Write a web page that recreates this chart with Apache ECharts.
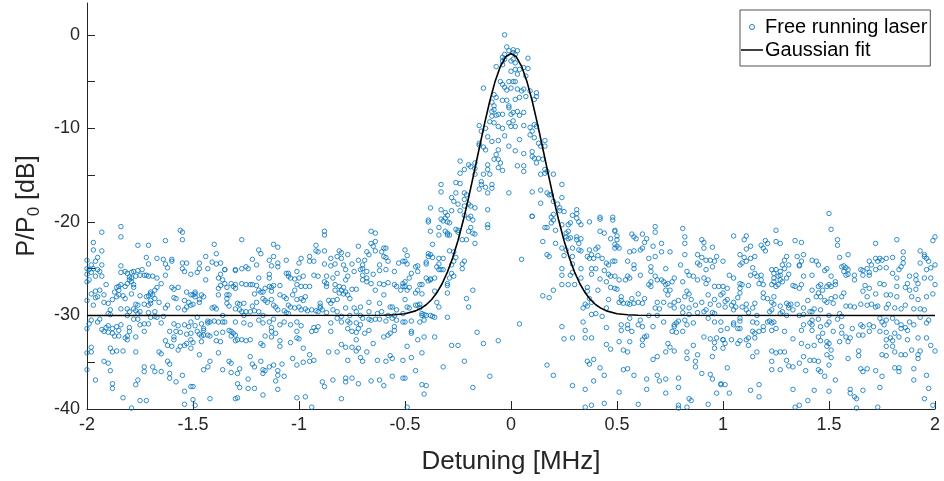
<!DOCTYPE html>
<html>
<head>
<meta charset="utf-8">
<title>Free running laser spectrum</title>
<script src="https://cdn.jsdelivr.net/npm/echarts@6/dist/echarts.min.js"></script>
<style>
  html, body { margin: 0; padding: 0; background: #fff; }
  #chart { width: 944px; height: 481px; }
</style>
</head>
<body>
<div id="chart"></div>
<script>
// Measured beat-note power (dB) versus detuning (MHz), grouped by detuning range
const laserA = [[-1.84,-20.5],[-1.84,-21.6],[-1.93,-21.1],[-1.56,-20.9],[-1.55,-21.1],[-1.55,-21.9],[-1.63,-22.0],[-1.97,-22.2],[-1.97,-23.0],[-1.93,-23.1],[-1.76,-22.5],[-1.71,-22.5],[-1.72,-23.8],[-1.67,-23.9],[-1.64,-24.0],[-1.60,-24.0],[-1.60,-24.2],[-1.63,-24.5],[-1.62,-24.9],[-1.55,-24.4],[-1.53,-24.4],[-1.55,-25.0],[-1.54,-25.3],[-1.51,-25.6],[-1.95,-23.8],[-1.96,-24.2],[-1.98,-24.6],[-2.00,-25.0],[-1.99,-25.1],[-1.97,-25.0],[-1.95,-25.1],[-1.93,-24.6],[-1.94,-25.3],[-1.93,-25.8],[-1.96,-25.8],[-1.98,-25.4],[-1.99,-26.2],[-2.00,-26.4],[-1.84,-24.7],[-1.84,-25.4],[-1.82,-25.3],[-1.81,-25.5],[-1.79,-25.4],[-1.78,-25.3],[-1.76,-25.2],[-1.75,-25.7],[-1.73,-25.7],[-1.72,-25.7],[-1.71,-25.8],[-1.71,-24.5],[-1.74,-25.1],[-1.80,-25.9],[-1.79,-26.0],[-1.79,-26.4],[-1.78,-26.7],[-1.78,-27.0],[-1.80,-26.2],[-1.77,-25.8],[-1.81,-26.6],[-1.82,-26.9],[-1.84,-26.7],[-1.85,-26.9],[-1.86,-27.0],[-1.85,-27.3],[-1.87,-27.5],[-1.86,-28.0],[-1.88,-28.3],[-1.91,-26.7],[-1.94,-27.3],[-1.96,-27.4],[-1.98,-27.7],[-1.95,-28.0],[-1.96,-28.1],[-1.92,-27.8],[-1.92,-28.6],[-1.90,-28.7],[-1.85,-27.8],[-1.83,-27.9],[-1.82,-28.2],[-1.79,-27.7],[-1.75,-27.9],[-1.72,-28.0],[-1.71,-27.9],[-1.70,-27.7],[-1.70,-27.5],[-1.68,-27.3],[-1.67,-27.0],[-1.67,-26.0],[-1.69,-25.8],[-1.65,-26.6],[-1.63,-25.7],[-1.60,-27.0],[-1.59,-27.2],[-1.57,-27.0],[-1.59,-28.1],[-1.58,-28.2],[-1.53,-27.5],[-1.51,-27.8],[-1.54,-28.4],[-1.52,-28.6],[-1.51,-28.9],[-1.53,-29.1],[-1.54,-29.4],[-1.57,-29.2],[-1.62,-28.9],[-1.63,-29.2],[-1.66,-28.6],[-1.68,-28.2],[-1.69,-27.8],[-1.70,-28.4],[-1.70,-28.7],[-1.73,-28.8],[-1.77,-28.8],[-1.76,-28.9],[-1.78,-29.3],[-1.77,-29.5],[-1.75,-29.6],[-1.76,-29.8],[-1.81,-29.3],[-1.80,-29.6],[-1.84,-29.3],[-1.89,-29.4],[-1.90,-29.8],[-1.89,-29.9],[-1.97,-28.9],[-2.00,-28.4],[-1.71,-28.9],[-1.71,-29.7],[-1.68,-29.6],[-1.68,-30.1],[-1.67,-30.2],[-1.70,-30.2],[-1.64,-30.1],[-1.65,-30.8],[-1.59,-30.9],[-1.57,-31.1],[-1.58,-31.7],[-1.54,-31.0],[-1.52,-31.2],[-1.51,-31.9],[-1.53,-32.0],[-1.56,-31.8],[-1.61,-31.7],[-1.63,-32.7],[-1.62,-33.2],[-1.59,-32.3],[-1.59,-32.6],[-1.60,-33.3],[-1.56,-33.3],[-1.54,-33.2],[-1.53,-33.0],[-1.51,-32.6],[-1.51,-33.5],[-1.57,-33.7],[-1.62,-34.9],[-1.61,-35.2],[-1.66,-33.9],[-1.65,-34.1],[-1.69,-35.5],[-1.68,-36.0],[-1.73,-35.5],[-1.73,-36.0],[-1.65,-36.0],[-1.76,-36.9],[-1.77,-37.4],[-1.81,-30.0],[-1.78,-30.4],[-1.73,-30.9],[-1.71,-30.9],[-1.76,-30.4],[-1.75,-31.0],[-1.80,-31.3],[-1.80,-31.7],[-1.81,-32.2],[-1.82,-32.4],[-1.81,-32.6],[-1.77,-32.3],[-1.73,-31.7],[-1.85,-31.6],[-1.84,-31.0],[-1.86,-31.2],[-1.87,-32.2],[-1.85,-32.2],[-1.88,-31.9],[-1.90,-31.8],[-1.91,-31.3],[-1.92,-31.7],[-1.93,-31.5],[-1.95,-30.7],[-1.94,-30.4],[-1.98,-30.5],[-1.99,-30.9],[-2.00,-31.4],[-1.90,-31.1],[-1.88,-31.4],[-1.98,-33.4],[-1.98,-33.9],[-1.89,-33.5],[-1.88,-33.9],[-1.86,-33.8],[-1.83,-33.8],[-1.77,-33.9],[-1.92,-34.9],[-1.90,-35.1],[-1.89,-35.9],[-1.96,-36.9],[-2.00,-35.8],[-1.88,-37.3],[-1.88,-37.8],[-1.83,-38.8],[-1.75,-39.1],[-1.72,-39.1],[-1.79,-39.9],[-1.61,-36.2],[-1.61,-36.7],[-1.55,-36.4],[-1.58,-37.1],[-1.54,-38.1],[-1.54,-39.5],[-1.51,-37.6],[-1.50,-39.0],[-2.00,-24.1],[-2.00,-25.6],[-2.00,-34.0]];

const laserB = [[-1.27,-21.9],[-1.40,-22.4],[-1.39,-23.4],[-1.44,-23.7],[-1.47,-24.4],[-1.41,-24.3],[-1.39,-24.5],[-1.37,-24.4],[-1.35,-25.1],[-1.47,-25.0],[-1.43,-25.0],[-1.48,-25.4],[-1.44,-26.2],[-1.49,-27.5],[-1.49,-27.7],[-1.49,-28.0],[-1.50,-27.8],[-1.46,-27.8],[-1.45,-28.0],[-1.47,-28.3],[-1.47,-28.6],[-1.50,-28.8],[-1.37,-25.6],[-1.38,-26.0],[-1.36,-26.2],[-1.35,-26.6],[-1.37,-26.8],[-1.38,-27.1],[-1.32,-26.6],[-1.31,-26.9],[-1.30,-26.7],[-1.30,-27.1],[-1.33,-27.8],[-1.34,-27.8],[-1.34,-28.2],[-1.34,-28.7],[-1.33,-29.0],[-1.34,-27.0],[-1.40,-29.1],[-1.41,-29.2],[-1.39,-29.3],[-1.38,-27.8],[-1.35,-25.1],[-1.30,-25.1],[-1.30,-25.2],[-1.27,-25.0],[-1.25,-24.8],[-1.24,-25.0],[-1.22,-24.0],[-1.20,-24.6],[-1.19,-23.0],[-1.18,-23.4],[-1.14,-24.1],[-1.12,-23.7],[-1.10,-22.7],[-1.12,-22.4],[-1.10,-24.4],[-1.10,-24.8],[-1.13,-24.7],[-1.06,-24.1],[-1.06,-25.5],[-1.05,-25.5],[-1.04,-26.0],[-1.05,-25.8],[-1.02,-26.1],[-1.01,-25.3],[-1.19,-26.0],[-1.14,-25.6],[-1.14,-26.0],[-1.27,-26.6],[-1.25,-26.7],[-1.23,-26.7],[-1.22,-26.7],[-1.20,-26.8],[-1.19,-27.3],[-1.18,-27.5],[-1.16,-27.1],[-1.14,-26.9],[-1.13,-27.0],[-1.13,-27.4],[-1.12,-26.8],[-1.09,-26.8],[-1.09,-27.8],[-1.07,-28.0],[-1.06,-28.2],[-1.03,-27.8],[-1.02,-27.3],[-1.01,-26.7],[-1.01,-28.3],[-1.05,-28.9],[-1.04,-29.1],[-1.02,-29.2],[-1.05,-29.8],[-1.06,-29.7],[-1.07,-29.5],[-1.10,-29.4],[-1.11,-29.1],[-1.12,-28.9],[-1.13,-28.3],[-1.15,-28.6],[-1.16,-28.4],[-1.17,-27.5],[-1.17,-28.2],[-1.21,-27.7],[-1.20,-28.6],[-1.22,-29.0],[-1.26,-28.7],[-1.28,-28.8],[-1.29,-28.7],[-1.28,-29.4],[-1.30,-29.3],[-1.27,-29.6],[-1.25,-29.6],[-1.23,-29.6],[-1.21,-29.5],[-1.19,-29.6],[-1.26,-30.0],[-1.36,-30.0],[-1.30,-30.7],[-1.26,-30.8],[-1.23,-31.0],[-1.19,-30.5],[-1.17,-30.0],[-1.14,-30.7],[-1.12,-30.4],[-1.09,-31.0],[-1.07,-30.7],[-1.04,-31.0],[-1.01,-30.7],[-1.01,-31.7],[-1.48,-30.2],[-1.46,-30.9],[-1.45,-31.6],[-1.45,-31.4],[-1.43,-30.6],[-1.43,-30.8],[-1.42,-30.7],[-1.40,-30.6],[-1.38,-30.7],[-1.36,-30.7],[-1.35,-30.7],[-1.51,-30.7],[-1.49,-31.1],[-1.48,-31.7],[-1.47,-32.0],[-1.46,-32.2],[-1.45,-32.1],[-1.43,-32.1],[-1.42,-32.2],[-1.46,-32.8],[-1.50,-32.9],[-1.39,-31.9],[-1.36,-31.8],[-1.33,-31.6],[-1.32,-31.7],[-1.31,-31.9],[-1.30,-32.1],[-1.32,-32.2],[-1.30,-32.7],[-1.29,-32.6],[-1.27,-32.6],[-1.25,-32.7],[-1.23,-32.6],[-1.39,-32.7],[-1.37,-32.8],[-1.17,-30.8],[-1.13,-31.3],[-1.13,-31.7],[-1.11,-31.9],[-1.16,-32.2],[-1.18,-33.0],[-1.17,-33.2],[-1.13,-32.3],[-1.09,-32.7],[-1.09,-33.3],[-1.04,-32.9],[-1.01,-32.4],[-1.47,-34.2],[-1.38,-34.0],[-1.42,-34.9],[-1.43,-35.5],[-1.45,-35.8],[-1.33,-34.9],[-1.32,-35.1],[-1.23,-34.4],[-1.22,-35.2],[-1.21,-35.5],[-1.18,-34.9],[-1.14,-35.5],[-1.12,-35.3],[-1.08,-35.2],[-1.03,-34.6],[-1.17,-35.8],[-1.17,-36.2],[-1.16,-35.9],[-1.28,-35.7],[-1.29,-36.2],[-1.32,-36.1],[-1.36,-35.8],[-1.10,-35.9],[-1.10,-36.4],[-1.11,-37.0],[-1.07,-36.5],[-1.29,-37.3],[-1.28,-37.7],[-1.24,-36.8],[-1.24,-37.8],[-1.21,-37.8],[-1.17,-38.5],[-1.10,-37.9],[-1.50,-37.6],[-1.42,-38.9],[-1.30,-38.9],[-1.29,-38.8],[-1.01,-38.8],[-1.49,-39.6]];

const laserC = [[-0.88,-21.0],[-0.88,-21.4],[-0.66,-21.0],[-0.64,-21.2],[-0.64,-22.1],[-0.66,-22.3],[-0.65,-22.6],[-0.60,-22.8],[-0.59,-22.8],[-0.61,-23.2],[-0.64,-23.1],[-0.68,-23.2],[-0.67,-23.5],[-0.72,-22.6],[-0.92,-22.5],[-0.92,-23.1],[-0.91,-23.2],[-0.88,-23.1],[-0.81,-23.1],[-0.80,-23.3],[-0.80,-23.9],[-0.77,-23.5],[-0.85,-23.9],[-0.82,-23.7],[-0.95,-23.7],[-0.93,-24.2],[-0.99,-23.9],[-1.00,-24.4],[-0.95,-24.2],[-0.72,-24.1],[-0.69,-24.1],[-0.70,-24.6],[-0.70,-25.0],[-0.71,-25.1],[-0.68,-25.3],[-0.70,-25.7],[-0.70,-26.2],[-0.68,-26.0],[-0.65,-25.6],[-0.62,-25.2],[-0.59,-25.1],[-0.55,-25.3],[-0.62,-24.6],[-0.60,-23.7],[-0.59,-23.8],[-0.53,-24.4],[-0.51,-24.2],[-0.58,-24.2],[-0.88,-24.5],[-0.85,-24.7],[-0.83,-24.5],[-0.79,-24.6],[-0.75,-24.5],[-0.78,-25.1],[-0.74,-25.3],[-0.77,-25.8],[-0.78,-26.2],[-0.82,-25.5],[-0.87,-25.8],[-0.84,-26.0],[-0.87,-26.9],[-0.87,-26.6],[-0.88,-26.4],[-0.91,-25.8],[-0.93,-25.7],[-0.98,-25.8],[-0.95,-26.9],[-0.97,-26.9],[-0.99,-26.9],[-1.00,-26.0],[-0.83,-26.7],[-0.81,-26.9],[-0.83,-27.3],[-0.80,-27.3],[-0.81,-27.6],[-0.79,-27.0],[-0.78,-27.5],[-0.75,-27.2],[-0.73,-27.2],[-0.77,-27.8],[-0.76,-28.2],[-0.79,-27.7],[-0.82,-28.3],[-0.84,-28.4],[-0.85,-28.7],[-0.86,-28.4],[-0.90,-28.7],[-0.90,-29.0],[-0.90,-29.2],[-0.89,-29.4],[-0.91,-29.6],[-0.92,-29.5],[-0.94,-29.4],[-0.97,-28.0],[-0.99,-28.2],[-0.98,-28.4],[-0.97,-29.3],[-0.96,-29.5],[-0.99,-29.4],[-1.00,-29.1],[-0.68,-26.4],[-0.66,-26.6],[-0.64,-27.3],[-0.62,-26.6],[-0.60,-26.7],[-0.58,-26.5],[-0.55,-26.7],[-0.54,-26.9],[-0.51,-26.9],[-0.51,-26.6],[-0.52,-27.3],[-0.60,-27.8],[-0.62,-28.7],[-0.57,-29.1],[-0.56,-29.1],[-0.54,-29.4],[-0.51,-29.8],[-0.55,-30.0],[-0.58,-30.0],[-0.61,-29.6],[-0.63,-29.8],[-0.67,-29.6],[-0.67,-28.6],[-0.71,-29.1],[-0.74,-29.2],[-0.73,-29.6],[-0.80,-30.1],[-0.76,-30.0],[-0.78,-29.2],[-0.82,-29.6],[-0.84,-29.4],[-0.87,-29.7],[-0.71,-30.0],[-0.70,-30.3],[-0.67,-30.4],[-0.66,-30.5],[-0.64,-30.4],[-0.62,-30.4],[-0.59,-30.6],[-0.56,-30.3],[-0.54,-30.5],[-0.51,-30.7],[-0.55,-31.2],[-0.55,-31.6],[-0.57,-31.9],[-0.58,-32.1],[-0.60,-32.3],[-0.67,-31.6],[-0.69,-31.9],[-0.71,-31.0],[-0.73,-30.8],[-0.72,-31.4],[-0.73,-31.8],[-0.75,-31.7],[-0.77,-31.4],[-0.76,-30.8],[-0.77,-30.6],[-0.80,-30.7],[-0.82,-30.3],[-0.85,-30.8],[-0.85,-31.7],[-0.91,-31.2],[-0.93,-31.3],[-0.94,-31.7],[-0.92,-31.6],[-0.99,-31.1],[-1.00,-32.5],[-0.73,-32.6],[-0.75,-33.4],[-0.78,-33.4],[-0.80,-33.1],[-0.82,-33.9],[-0.86,-33.9],[-0.73,-33.8],[-0.72,-33.5],[-0.71,-34.5],[-0.70,-34.9],[-0.77,-34.8],[-0.68,-33.9],[-0.65,-33.0],[-0.63,-34.8],[-0.59,-34.9],[-0.57,-34.3],[-0.56,-34.6],[-0.51,-34.8],[-0.98,-33.5],[-0.95,-34.2],[-0.95,-34.9],[-0.93,-34.8],[-0.98,-35.0],[-1.01,-35.3],[-0.89,-37.1],[-0.88,-37.6],[-0.84,-36.9],[-0.78,-36.7],[-0.78,-37.1],[-0.75,-36.7],[-0.72,-37.3],[-0.66,-37.0],[-0.62,-36.9],[-0.60,-37.5],[-0.56,-36.5],[-0.51,-36.7],[-0.97,-38.7],[-0.94,-39.8],[-0.80,-38.9]];

const laserD = [[-0.39,-19.8],[-0.39,-20.0],[-0.33,-19.7],[-0.32,-19.9],[-0.31,-19.6],[-0.30,-20.0],[-0.29,-20.1],[-0.34,-20.6],[-0.34,-21.4],[-0.38,-21.0],[-0.31,-21.0],[-0.30,-21.2],[-0.30,-21.4],[-0.29,-21.4],[-0.26,-20.8],[-0.25,-20.9],[-0.25,-21.1],[-0.20,-19.6],[-0.18,-19.8],[-0.19,-20.6],[-0.18,-21.2],[-0.20,-21.0],[-0.17,-21.3],[-0.17,-22.3],[-0.21,-21.9],[-0.23,-21.9],[-0.11,-20.3],[-0.11,-20.6],[-0.37,-22.4],[-0.50,-23.0],[-0.49,-23.6],[-0.50,-24.2],[-0.49,-24.5],[-0.47,-25.5],[-0.48,-26.0],[-0.45,-24.8],[-0.44,-24.7],[-0.44,-25.3],[-0.39,-23.4],[-0.39,-23.7],[-0.40,-24.3],[-0.40,-24.5],[-0.38,-23.5],[-0.37,-23.8],[-0.34,-23.9],[-0.32,-23.9],[-0.34,-24.5],[-0.35,-24.8],[-0.34,-25.1],[-0.33,-25.1],[-0.32,-25.1],[-0.29,-23.1],[-0.27,-23.2],[-0.26,-23.8],[-0.27,-24.2],[-0.28,-24.6],[-0.28,-25.5],[-0.27,-25.8],[-0.29,-26.0],[-0.30,-26.6],[-0.30,-26.8],[-0.22,-24.2],[-0.23,-24.5],[-0.23,-25.0],[-0.40,-26.0],[-0.38,-26.1],[-0.38,-26.2],[-0.39,-26.3],[-0.36,-26.0],[-0.42,-26.7],[-0.43,-26.7],[-0.44,-27.3],[-0.45,-27.6],[-0.42,-27.7],[-0.50,-26.4],[-0.50,-26.9],[-0.48,-27.0],[-0.49,-27.3],[-0.50,-28.3],[-0.49,-29.1],[-0.45,-28.9],[-0.44,-28.9],[-0.43,-28.8],[-0.43,-29.2],[-0.48,-29.2],[-0.47,-30.6],[-0.50,-30.7],[-0.42,-29.8],[-0.41,-29.9],[-0.40,-30.0],[-0.42,-30.0],[-0.41,-30.5],[-0.43,-30.7],[-0.37,-30.1],[-0.36,-30.2],[-0.38,-30.0],[-0.35,-28.6],[-0.34,-29.1],[-0.36,-27.4],[-0.30,-27.6],[-0.30,-30.2],[-0.21,-28.2],[-0.20,-29.1],[-0.18,-27.3],[-0.47,-31.7],[-0.47,-31.9],[-0.44,-32.6],[-0.41,-32.3],[-0.36,-32.3],[-0.49,-33.3],[-0.47,-34.5],[-0.42,-34.0],[-0.28,-33.2],[-0.25,-33.2],[-0.32,-35.5],[-0.22,-34.9],[-0.16,-31.8],[-0.13,-33.0],[-0.06,-32.7],[-0.10,-36.5],[-0.18,-37.7],[-0.45,-35.9],[-0.50,-36.7],[-0.42,-37.4],[-0.40,-37.5],[-0.41,-38.4],[-0.49,-39.8]];

const peakL = [[-0.03,0.0],[-0.02,-1.3],[-0.03,-2.1],[-0.04,-2.4],[-0.04,-2.8],[-0.04,-3.2],[-0.07,-3.4],[-0.03,-2.6],[-0.01,-1.7],[0.01,-1.9],[0.0,-2.8],[0.0,-3.9],[-0.13,-5.7],[-0.05,-5.0],[-0.04,-5.3],[-0.03,-5.6],[-0.02,-5.9],[-0.01,-5.0],[0.0,-5.7],[-0.08,-6.4],[-0.07,-6.7],[-0.09,-7.2],[-0.08,-7.6],[-0.08,-8.0],[-0.07,-8.6],[-0.09,-8.2],[-0.09,-8.7],[-0.06,-8.5],[-0.04,-8.5],[-0.01,-7.6],[0.0,-8.5],[-0.04,-7.0],[-0.02,-7.0],[-0.01,-7.8],[-0.10,-9.3],[-0.08,-9.4],[-0.06,-9.8],[-0.04,-10.0],[-0.01,-9.4],[0.0,-9.8],[-0.03,-10.8],[-0.01,-11.9],[-0.06,-11.3],[-0.09,-11.4],[-0.11,-10.9],[-0.12,-10.0],[-0.14,-10.3],[-0.15,-9.7],[-0.15,-11.6],[-0.15,-11.8],[-0.13,-12.0],[-0.12,-12.3],[-0.06,-12.3],[-0.07,-12.8],[-0.08,-13.3],[-0.06,-13.3],[-0.05,-13.7],[-0.04,-14.5],[-0.06,-14.2],[-0.11,-13.9],[-0.11,-14.4],[-0.13,-14.9],[-0.10,-14.9],[-0.09,-16.0],[-0.09,-16.4],[-0.12,-16.3],[-0.11,-16.9],[-0.15,-16.5],[-0.14,-16.0],[-0.14,-15.7],[-0.17,-14.9],[-0.17,-14.3],[-0.19,-14.1],[-0.17,-13.7],[-0.20,-13.9],[-0.24,-13.5],[-0.22,-14.4],[-0.24,-14.8],[-0.26,-15.8],[-0.24,-15.9],[-0.33,-16.0],[-0.33,-16.8],[-0.28,-17.4],[-0.27,-17.8],[-0.26,-16.9],[-0.22,-16.9],[-0.21,-17.1],[-0.22,-17.6],[-0.25,-18.1],[-0.17,-18.5],[-0.11,-18.7],[-0.01,-16.9],[-0.38,-18.5],[-0.33,-18.7],[-0.31,-19.0],[-0.28,-18.8],[-0.30,-19.3],[-0.24,-18.8],[-0.19,-19.4],[-0.19,-18.3],[-0.22,-18.3],[-0.20,-18.1],[-0.22,-19.3]];

const peakR = [[0.01,-1.6],[0.03,-1.7],[0.02,-2.1],[0.08,-2.5],[0.01,-2.6],[0.02,-3.0],[0.02,-3.7],[0.04,-3.7],[0.06,-3.5],[0.08,-3.6],[0.03,-4.2],[0.07,-4.4],[0.01,-5.0],[0.02,-5.0],[0.03,-5.8],[0.05,-6.0],[0.06,-5.8],[0.09,-6.0],[0.12,-6.2],[0.12,-6.6],[0.11,-6.9],[0.07,-6.6],[0.04,-6.7],[0.02,-6.9],[0.03,-8.2],[0.06,-8.3],[0.01,-8.3],[0.04,-8.6],[0.01,-9.2],[0.02,-9.8],[0.06,-9.7],[0.09,-9.9],[0.11,-9.6],[0.12,-9.8],[0.10,-10.3],[0.09,-10.7],[0.04,-11.2],[0.11,-11.0],[0.16,-11.3],[0.13,-11.6],[0.14,-11.9],[0.16,-11.9],[0.02,-12.4],[0.06,-12.7],[0.10,-12.5],[0.10,-13.0],[0.11,-13.2],[0.12,-13.7],[0.13,-13.2],[0.03,-14.0],[0.06,-14.0],[0.06,-14.6],[0.15,-13.3],[0.16,-14.4],[0.14,-14.9],[0.16,-14.8],[0.17,-14.6],[0.20,-14.9],[0.10,-16.8],[0.14,-16.6],[0.17,-16.9],[0.18,-17.1],[0.19,-17.1],[0.24,-17.4],[0.24,-16.0],[0.14,-18.0],[0.20,-17.8],[0.22,-18.1],[0.23,-18.5],[0.23,-18.8],[0.25,-18.9],[0.31,-18.7],[0.31,-19.1],[0.29,-19.3],[0.20,-19.2],[0.19,-19.5],[0.10,-19.4],[0.42,-19.5],[0.48,-19.5]];

const laserE = [[0.10,-19.4],[0.20,-19.8],[0.19,-20.1],[0.17,-20.6],[0.16,-20.6],[0.21,-20.9],[0.24,-20.3],[0.27,-20.3],[0.28,-20.1],[0.27,-21.0],[0.26,-21.2],[0.26,-21.6],[0.27,-21.8],[0.28,-21.7],[0.31,-21.6],[0.31,-21.9],[0.32,-22.3],[0.33,-21.8],[0.31,-19.6],[0.32,-20.0],[0.33,-20.3],[0.37,-20.0],[0.42,-19.7],[0.48,-19.8],[0.42,-21.0],[0.44,-21.2],[0.47,-21.8],[0.49,-20.9],[0.49,-22.4],[0.49,-22.8],[0.21,-22.3],[0.15,-22.1],[0.24,-22.8],[0.26,-23.0],[0.29,-22.8],[0.32,-23.0],[0.33,-23.1],[0.37,-23.0],[0.41,-22.7],[0.40,-22.9],[0.38,-23.5],[0.36,-23.7],[0.37,-23.9],[0.39,-23.9],[0.41,-23.6],[0.43,-23.9],[0.45,-24.4],[0.46,-24.6],[0.48,-24.2],[0.49,-24.2],[0.17,-23.5],[0.18,-23.7],[0.25,-23.6],[0.29,-23.7],[0.05,-24.0],[0.29,-24.5],[0.33,-25.0],[0.38,-25.0],[0.40,-25.0],[0.38,-25.6],[0.44,-25.2],[0.46,-25.6],[0.47,-25.8],[0.49,-25.8],[0.24,-25.0],[0.24,-25.7],[0.28,-25.7],[0.29,-25.4],[0.33,-26.0],[0.30,-26.7],[0.27,-26.7],[0.24,-26.7],[0.42,-26.1],[0.45,-26.4],[0.47,-27.0],[0.49,-27.1],[0.20,-27.3],[0.15,-27.9],[0.18,-28.1],[0.36,-27.0],[0.36,-27.4],[0.41,-27.3],[0.46,-28.3],[0.37,-28.2],[0.38,-28.6],[0.35,-28.8],[0.34,-29.2],[0.36,-29.0],[0.38,-29.9],[0.40,-29.8],[0.43,-30.1],[0.45,-29.2],[0.04,-30.9],[0.24,-31.2],[0.25,-32.5],[0.29,-32.4],[0.35,-31.6],[0.34,-30.7],[0.35,-32.4],[0.38,-32.4],[0.45,-31.3],[0.45,-33.1],[0.47,-33.6],[0.17,-35.3],[0.20,-36.4],[0.36,-34.9],[0.37,-35.2],[0.39,-34.7],[0.42,-35.6],[0.44,-36.4],[0.39,-37.0],[0.29,-37.5],[0.35,-37.9],[0.35,-39.8],[0.38,-39.6],[0.44,-39.4]];

const laserF = [[0.68,-20.5],[0.68,-21.1],[0.81,-20.7],[0.82,-21.6],[0.82,-22.3],[0.57,-21.3],[0.58,-21.6],[0.59,-21.8],[0.62,-21.3],[0.64,-21.8],[0.63,-22.2],[0.71,-22.3],[0.75,-23.2],[0.71,-23.2],[0.67,-22.6],[0.62,-22.8],[0.61,-23.0],[0.58,-23.1],[0.56,-23.2],[0.49,-21.0],[0.50,-21.5],[0.50,-21.9],[0.50,-22.6],[0.51,-22.8],[0.90,-21.9],[0.91,-22.2],[0.91,-22.8],[0.95,-22.7],[0.88,-23.5],[0.90,-23.8],[0.92,-24.1],[0.94,-24.1],[0.96,-24.2],[0.97,-23.7],[1.00,-24.2],[0.95,-24.8],[0.92,-25.1],[0.88,-24.4],[0.89,-24.6],[0.82,-23.5],[0.83,-25.3],[0.86,-25.8],[0.84,-25.7],[0.80,-24.6],[0.73,-25.0],[0.68,-23.7],[0.55,-24.2],[0.58,-24.6],[0.58,-25.0],[0.65,-23.9],[0.66,-24.8],[0.61,-25.7],[0.66,-25.3],[0.68,-25.8],[0.69,-26.2],[0.66,-26.4],[0.65,-26.7],[0.66,-26.9],[0.71,-26.2],[0.72,-26.4],[0.73,-26.7],[0.74,-26.6],[0.76,-26.4],[0.77,-26.0],[0.73,-27.3],[0.75,-27.3],[0.74,-27.8],[0.81,-26.4],[0.83,-27.4],[0.84,-27.7],[0.82,-28.0],[0.85,-28.3],[0.87,-28.9],[0.84,-29.2],[0.81,-29.1],[0.81,-29.7],[0.77,-29.2],[0.77,-28.6],[0.79,-28.4],[0.75,-28.9],[0.72,-28.6],[0.69,-28.6],[0.70,-29.3],[0.69,-30.0],[0.68,-29.2],[0.65,-30.0],[0.63,-28.2],[0.62,-28.7],[0.60,-27.7],[0.60,-28.6],[0.58,-28.7],[0.57,-28.2],[0.56,-28.8],[0.55,-28.7],[0.52,-28.0],[0.51,-28.6],[0.52,-28.4],[0.53,-28.7],[0.50,-27.2],[0.51,-26.2],[0.55,-25.8],[0.56,-26.0],[0.54,-26.2],[0.88,-26.2],[0.91,-26.0],[0.92,-26.6],[0.93,-26.2],[0.96,-26.9],[0.98,-26.9],[0.99,-27.8],[1.00,-27.6],[0.93,-27.8],[0.96,-28.3],[0.98,-28.9],[0.94,-28.8],[0.90,-28.6],[0.92,-29.4],[0.91,-29.6],[0.88,-29.7],[0.84,-29.9],[0.95,-29.7],[0.96,-29.8],[0.99,-30.7],[0.96,-30.7],[0.93,-30.3],[0.86,-30.8],[0.82,-30.5],[0.79,-30.6],[0.78,-30.8],[0.77,-31.0],[0.77,-31.2],[0.76,-31.7],[0.78,-31.8],[0.81,-31.7],[0.83,-31.0],[0.72,-30.7],[0.67,-31.2],[0.62,-31.2],[0.61,-30.5],[0.60,-31.0],[0.56,-30.3],[0.55,-31.0],[0.55,-31.4],[0.52,-31.6],[0.52,-31.0],[0.57,-31.7],[0.56,-32.8],[0.51,-32.8],[0.63,-32.3],[0.64,-32.2],[0.62,-32.6],[0.62,-33.2],[0.53,-33.7],[0.55,-33.9],[0.74,-33.0],[0.75,-33.4],[0.73,-33.9],[0.77,-33.8],[0.83,-33.9],[0.86,-33.2],[0.88,-34.2],[0.87,-34.9],[0.87,-35.5],[0.83,-34.6],[0.69,-34.4],[0.67,-34.7],[0.91,-32.3],[0.94,-32.5],[0.96,-32.9],[0.97,-32.4],[1.00,-32.6],[0.99,-31.6],[0.96,-33.5],[0.95,-34.4],[0.90,-36.2],[0.94,-36.3],[0.95,-36.8],[0.99,-37.4],[0.97,-38.3],[0.53,-35.8],[0.55,-35.7],[0.58,-36.4],[0.64,-36.8],[0.69,-36.4],[0.70,-37.0],[0.73,-36.8],[0.79,-36.7],[0.79,-37.7],[0.64,-37.9],[0.51,-38.2],[0.73,-38.3],[0.84,-38.9],[0.85,-39.1],[0.60,-39.5],[0.79,-39.6],[0.79,-39.9],[0.83,-39.8],[0.93,-39.5]];

const laserG = [[1.25,-20.9],[1.05,-21.5],[1.11,-21.5],[1.10,-21.9],[1.13,-22.6],[1.11,-22.9],[1.18,-22.5],[1.20,-22.0],[1.21,-22.3],[1.19,-22.8],[1.20,-23.1],[1.25,-22.1],[1.27,-22.3],[1.34,-22.0],[1.37,-22.2],[1.38,-23.5],[1.35,-23.7],[1.37,-24.2],[1.36,-24.6],[1.36,-24.7],[1.42,-24.1],[1.44,-24.2],[1.45,-24.6],[1.48,-25.2],[1.49,-25.0],[1.08,-23.5],[1.10,-23.8],[1.09,-24.4],[1.08,-24.6],[1.11,-24.2],[1.13,-23.9],[1.15,-23.7],[1.14,-24.9],[1.15,-25.5],[1.13,-25.7],[1.16,-25.8],[1.18,-25.7],[1.18,-26.2],[1.17,-26.6],[1.19,-26.7],[1.23,-25.1],[1.24,-25.5],[1.25,-25.1],[1.27,-25.3],[1.24,-26.0],[1.26,-25.8],[1.27,-25.7],[1.29,-24.1],[1.30,-23.7],[1.28,-24.6],[1.31,-24.6],[1.31,-25.6],[1.30,-26.0],[1.28,-26.4],[1.26,-26.7],[1.27,-26.2],[1.29,-25.0],[1.24,-26.4],[1.23,-26.7],[1.25,-26.9],[1.33,-26.8],[1.34,-26.9],[1.36,-27.1],[1.37,-26.7],[1.38,-25.8],[1.42,-25.7],[1.45,-26.9],[1.46,-26.7],[1.47,-27.3],[1.49,-26.9],[1.45,-27.6],[1.42,-27.3],[1.03,-25.7],[1.05,-26.0],[1.00,-26.9],[1.02,-27.1],[1.08,-26.6],[1.09,-26.7],[1.08,-27.1],[1.12,-26.8],[1.08,-27.6],[1.07,-28.1],[1.05,-28.6],[1.06,-29.1],[1.05,-29.4],[1.02,-28.3],[1.04,-28.9],[1.01,-28.5],[1.01,-29.1],[1.15,-28.7],[1.14,-29.2],[1.11,-28.8],[1.09,-29.1],[1.11,-29.4],[1.12,-29.7],[1.19,-28.1],[1.19,-27.6],[1.21,-28.2],[1.24,-28.0],[1.23,-28.6],[1.24,-28.8],[1.27,-29.0],[1.27,-29.8],[1.30,-28.7],[1.31,-28.9],[1.32,-28.8],[1.31,-29.2],[1.33,-29.4],[1.35,-28.8],[1.38,-29.2],[1.41,-29.6],[1.40,-28.4],[1.44,-28.0],[1.46,-28.0],[1.48,-28.4],[1.49,-28.6],[1.46,-29.4],[1.43,-29.3],[1.42,-29.6],[1.36,-30.0],[1.38,-29.9],[1.30,-30.0],[1.28,-29.6],[1.23,-29.4],[1.22,-29.6],[1.16,-30.0],[1.22,-30.6],[1.21,-30.7],[1.23,-30.8],[1.24,-30.7],[1.25,-31.4],[1.23,-31.6],[1.19,-31.2],[1.16,-30.8],[1.14,-30.7],[1.14,-31.7],[1.15,-31.9],[1.17,-31.7],[1.19,-31.6],[1.08,-30.3],[1.08,-30.6],[1.05,-31.0],[1.05,-30.8],[1.02,-31.4],[1.07,-31.4],[1.08,-31.4],[1.00,-32.6],[1.01,-33.0],[1.00,-33.5],[1.04,-32.6],[1.07,-33.0],[1.08,-32.7],[1.11,-32.6],[1.12,-32.4],[1.15,-32.4],[1.12,-33.2],[1.16,-33.9],[1.14,-34.4],[1.23,-33.8],[1.25,-34.0],[1.27,-33.9],[1.29,-33.9],[1.29,-31.7],[1.33,-32.5],[1.37,-31.6],[1.38,-31.0],[1.41,-30.8],[1.42,-31.0],[1.42,-30.5],[1.45,-30.4],[1.46,-31.2],[1.49,-31.0],[1.47,-31.9],[1.45,-32.3],[1.46,-32.7],[1.42,-31.6],[1.40,-33.3],[1.37,-33.0],[1.43,-33.2],[1.49,-32.8],[1.49,-33.3],[1.33,-35.5],[1.30,-34.8],[1.31,-35.4],[1.36,-35.1],[1.38,-34.4],[1.39,-35.9],[1.41,-34.8],[1.43,-34.8],[1.45,-34.9],[1.46,-36.0],[1.45,-35.8],[1.48,-36.5],[1.49,-34.2],[1.23,-34.9],[1.23,-35.8],[1.27,-35.8],[1.02,-35.6],[0.99,-37.3],[1.01,-37.4],[1.03,-38.3],[1.13,-38.0],[1.17,-37.4],[1.17,-38.7],[1.33,-37.9],[1.43,-38.0],[1.40,-39.1],[1.36,-39.6],[1.34,-39.8]];

const laserH = [[1.50,-19.1],[1.51,-20.8],[1.54,-21.9],[1.54,-22.5],[1.72,-22.3],[1.82,-21.9],[2.00,-21.6],[1.99,-22.0],[1.55,-23.8],[1.59,-23.5],[1.56,-24.8],[1.57,-24.7],[1.58,-24.9],[1.59,-25.1],[1.59,-25.6],[1.58,-25.7],[1.57,-25.3],[1.62,-25.7],[1.62,-26.2],[1.51,-25.8],[1.53,-26.4],[1.53,-26.7],[1.51,-26.9],[1.50,-26.7],[1.69,-24.2],[1.70,-24.6],[1.72,-23.9],[1.74,-23.9],[1.73,-24.2],[1.75,-24.1],[1.77,-23.9],[1.80,-23.8],[1.85,-23.2],[1.85,-23.9],[1.85,-24.4],[1.84,-24.8],[1.83,-25.1],[1.93,-23.1],[1.95,-23.7],[1.95,-23.5],[1.96,-23.9],[1.97,-24.2],[1.93,-24.4],[1.96,-25.1],[1.98,-24.9],[2.00,-24.6],[1.91,-25.7],[1.88,-25.8],[1.87,-26.6],[1.91,-26.2],[1.92,-26.6],[1.95,-26.0],[1.98,-26.0],[1.80,-25.5],[1.82,-26.0],[1.77,-24.9],[1.74,-24.9],[1.72,-25.1],[1.68,-25.0],[1.66,-25.2],[1.65,-25.1],[1.66,-25.7],[1.69,-25.4],[1.69,-25.7],[1.67,-26.8],[1.69,-27.1],[1.66,-27.4],[1.68,-28.0],[1.72,-27.7],[1.74,-26.6],[1.76,-26.7],[1.77,-27.8],[1.79,-27.8],[1.82,-26.9],[1.82,-28.0],[1.86,-27.0],[1.88,-27.3],[1.91,-27.2],[1.89,-28.0],[1.92,-28.3],[1.96,-28.0],[2.00,-26.7],[1.99,-27.7],[1.57,-27.6],[1.56,-28.0],[1.53,-28.0],[1.52,-28.7],[1.51,-28.2],[1.58,-29.0],[1.60,-29.0],[1.62,-29.1],[1.65,-28.8],[1.68,-28.9],[1.70,-28.8],[1.72,-29.1],[1.73,-29.0],[1.77,-29.2],[1.78,-28.8],[1.81,-29.2],[1.84,-29.3],[1.86,-28.9],[1.90,-29.3],[1.93,-29.3],[1.95,-29.4],[1.55,-29.8],[1.54,-30.4],[1.56,-30.1],[1.50,-30.0],[1.50,-30.7],[1.56,-31.2],[1.52,-31.7],[1.56,-31.9],[1.61,-31.4],[1.65,-31.0],[1.66,-31.2],[1.69,-31.0],[1.69,-31.7],[1.66,-32.1],[1.64,-32.1],[1.60,-32.4],[1.59,-32.8],[1.58,-32.3],[1.55,-32.8],[1.50,-33.0],[1.51,-33.7],[1.51,-34.5],[1.50,-35.3],[1.59,-34.6],[1.64,-33.8],[1.64,-34.3],[1.74,-30.3],[1.75,-30.7],[1.76,-31.0],[1.77,-30.5],[1.80,-30.3],[1.82,-30.7],[1.84,-31.0],[1.87,-31.6],[1.88,-30.7],[1.90,-31.0],[1.93,-30.2],[1.96,-30.8],[1.97,-30.5],[1.77,-31.8],[1.74,-31.7],[1.71,-31.2],[1.77,-32.6],[1.79,-32.4],[1.80,-32.7],[1.81,-31.9],[1.83,-32.3],[1.84,-31.4],[1.86,-31.3],[1.87,-32.6],[1.92,-32.4],[1.96,-32.4],[1.98,-33.2],[2.00,-33.8],[1.80,-33.3],[1.81,-33.9],[1.84,-34.2],[1.86,-34.2],[1.75,-34.2],[1.77,-34.3],[1.77,-33.3],[1.89,-33.7],[1.92,-34.2],[1.92,-34.6],[1.93,-33.8],[1.72,-35.9],[1.75,-36.5],[1.81,-35.6],[1.83,-35.6],[1.83,-36.0],[1.90,-35.7],[1.90,-36.9],[1.96,-36.4],[1.97,-37.8],[1.95,-38.9],[1.65,-35.7],[1.66,-36.0],[1.68,-35.7],[1.53,-36.9],[1.50,-38.1],[1.60,-37.9],[1.60,-38.3],[1.62,-38.7],[1.63,-38.9],[1.66,-38.0],[1.74,-37.7],[1.63,-39.9],[1.73,-39.8],[1.99,-39.6]];

// Gaussian fit sampled along the detuning axis
const fitX = [-2, -0.6, -0.55, -0.5, -0.45, -0.425, -0.4, -0.375, -0.35, -0.325, -0.3, -0.275, -0.25, -0.225, -0.2, -0.175, -0.15, -0.125, -0.1, -0.075, -0.05, -0.025, 0, 0.025, 0.05, 0.075, 0.1, 0.125, 0.15, 0.175, 0.2, 0.225, 0.25, 0.275, 0.3, 0.325, 0.35, 0.375, 0.4, 0.425, 0.45, 0.5, 0.55, 0.6, 2];
const fitY = [-30, -29.98, -29.93, -29.81, -29.51, -29.24, -28.86, -28.32, -27.58, -26.61, -25.37, -23.83, -21.98, -19.83, -17.42, -14.82, -12.15, -9.52, -7.08, -4.98, -3.37, -2.35, -2.0, -2.35, -3.37, -4.98, -7.08, -9.52, -12.15, -14.82, -17.42, -19.83, -21.98, -23.83, -25.37, -26.61, -27.58, -28.32, -28.86, -29.24, -29.51, -29.81, -29.93, -29.98, -30];

const xTicks = [-2, -1.5, -1, -0.5, 0, 0.5, 1, 1.5, 2];
const yTickMarks = [-40, -35, -30, -25, -20, -15, -10, -5, 0];
const yTickLabels = [-40, -30, -20, -10, 0];

const laserPoints = [].concat(laserA, laserB, laserC, laserD, peakL, peakR, laserE, laserF, laserG, laserH);
const fitPoints = fitX.map((x, i) => [x, fitY[i]]);

const axisColor = '#262626';
const font = '"Liberation Sans", Arial, Helvetica, sans-serif';

const chart = echarts.init(document.getElementById('chart'), null, { renderer: 'canvas' });
chart.setOption({
  animation: false,
  backgroundColor: '#ffffff',
  textStyle: { fontFamily: font },
  grid: { left: 87, right: 9, top: 3, bottom: 72, containLabel: false },
  legend: {
    left: 740, top: 10,
    orient: 'vertical',
    backgroundColor: '#ffffff',
    borderColor: axisColor,
    borderWidth: 0.8,
    borderRadius: 0,
    padding: [7, 3, 6, 1],
    itemGap: 3,
    itemWidth: 22,
    itemHeight: 5,
    textStyle: { fontFamily: font, fontSize: 20, color: '#000', lineHeight: 18, padding: [0, 0, 0, -3] },
    data: [
      { name: 'Free running laser', icon: 'circle',
        itemStyle: { color: 'rgba(0,0,0,0)', borderColor: '#0072BD', borderWidth: 0.9 } },
      { name: 'Gaussian fit', icon: 'path://M0,0H22V1.5H0Z',
        itemStyle: { color: '#000000', borderWidth: 0 } }
    ]
  },
  xAxis: {
    type: 'value', min: -2, max: 2, interval: 0.5,
    name: 'Detuning [MHz]', nameLocation: 'middle', nameGap: 40,
    nameTextStyle: { fontFamily: font, fontSize: 26, color: axisColor },
    axisLine: { show: true, onZero: false, lineStyle: { color: axisColor, width: 1 } },
    axisTick: { show: true, inside: true, length: 8, lineStyle: { color: axisColor }, customValues: xTicks },
    axisLabel: { fontFamily: font, fontSize: 18, color: axisColor, margin: 7, customValues: xTicks },
    splitLine: { show: false }
  },
  yAxis: {
    type: 'value', min: -40, max: 3.4, interval: 5,
    name: '{n|P/P}{s|0}{n| [dB]}', nameLocation: 'middle', nameGap: 42,
    nameTextStyle: {
      fontFamily: font, color: axisColor,
      rich: {
        n: { fontFamily: font, fontSize: 25, color: axisColor, lineHeight: 28, verticalAlign: 'top' },
        s: { fontFamily: font, fontSize: 17, color: axisColor, lineHeight: 20, padding: [17, 0, 0, 0], verticalAlign: 'bottom' }
      }
    },
    axisLine: { show: true, onZero: false, lineStyle: { color: axisColor, width: 1 } },
    axisTick: { show: true, inside: true, length: 8, lineStyle: { color: axisColor }, customValues: yTickMarks },
    axisLabel: { fontFamily: font, fontSize: 18, color: axisColor, margin: 7, customValues: yTickLabels },
    splitLine: { show: false }
  },
  series: [
    {
      name: 'Free running laser',
      type: 'scatter',
      data: laserPoints,
      symbol: 'circle',
      symbolSize: 4.5,
      itemStyle: { color: 'rgba(0,0,0,0)', borderColor: '#0072BD', borderWidth: 0.8, opacity: 1 },
      silent: true,
      z: 2
    },
    {
      name: 'Gaussian fit',
      type: 'line',
      data: fitPoints,
      showSymbol: false,
      symbol: 'none',
      lineStyle: { color: '#000000', width: 1.6 },
      itemStyle: { color: '#000000' },
      silent: true,
      z: 3
    }
  ]
});
</script>
</body>
</html>
